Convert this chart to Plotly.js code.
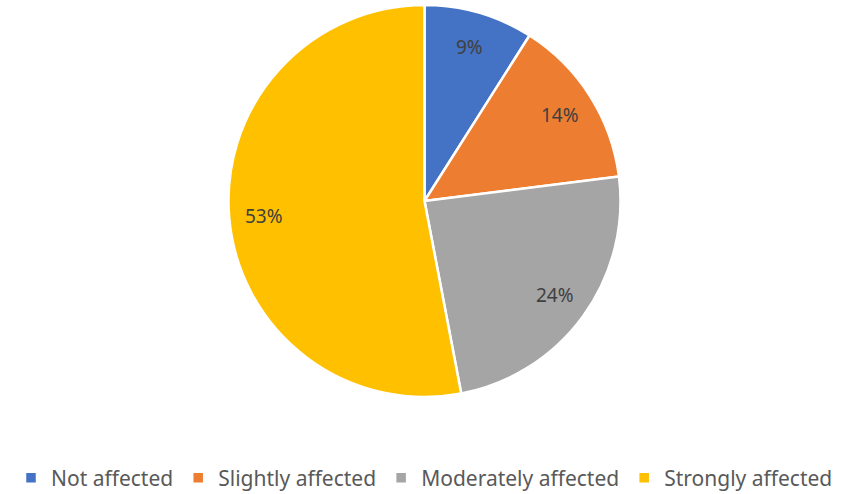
<!DOCTYPE html>
<html>
<head>
<meta charset="utf-8">
<script src="https://cdn.plot.ly/plotly-3.0.1.min.js"></script>
<style>html,body{margin:0;padding:0;background:#fff;}#chart{width:849px;height:494px;}</style>
</head>
<body>
<div id="chart"></div>
<script>
const categories = ["Not affected", "Slightly affected", "Moderately affected", "Strongly affected"];
const values = [9, 14, 24, 53];
const labelTexts = ["9%", "14%", "24%", "53%"];
const colors = ["#4472C4", "#ED7D31", "#A5A5A5", "#FFC000"];

const W = 849, H = 494, mt = 5, mb = 97;
const plotH = H - mt - mb;
const R = plotH / 2;
const cx = W / 2, cy = mt + R;
const total = values.reduce((a, b) => a + b, 0);

const annotations = [];
let cum = 0;
values.forEach((v, i) => {
  const mid = (cum + v / 2) / total * 2 * Math.PI;
  cum += v;
  const r = 0.82 * R;
  const px = cx + r * Math.sin(mid);
  const py = cy - r * Math.cos(mid);
  annotations.push({
    xref: "paper", yref: "paper",
    x: px / W, y: (H - mb - py) / plotH,
    text: labelTexts[i], showarrow: false,
    font: {family: "Noto Sans, sans-serif", size: 19, color: "#404040"},
    xanchor: "center", yanchor: "middle"
  });
});

const trace = {
  type: "pie",
  labels: categories,
  values: values,
  sort: false,
  direction: "clockwise",
  rotation: 0,
  textinfo: "none",
  hoverinfo: "label+percent",
  marker: {colors: colors, line: {color: "#ffffff", width: 2.5}},
  domain: {x: [0, 1], y: [0, 1]}
};

const layout = {
  width: W, height: H,
  margin: {l: 0, r: 0, t: mt, b: mb, autoexpand: false},
  paper_bgcolor: "#ffffff",
  showlegend: true,
  legend: {
    orientation: "h", x: 0.5, xanchor: "center",
    yref: "container", y: 16 / H, yanchor: "middle",
    font: {family: "Noto Sans, sans-serif", size: 21, color: "#595959"},
    itemwidth: 30, traceorder: "normal"
  },
  annotations: annotations
};

Plotly.newPlot("chart", [trace], layout, {displayModeBar: false, staticPlot: true});
</script>
</body>
</html>
